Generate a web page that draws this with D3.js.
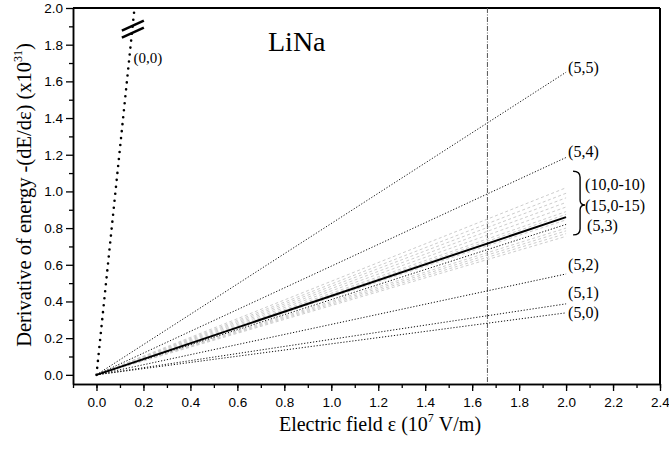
<!DOCTYPE html>
<html>
<head>
<meta charset="utf-8">
<script src="https://cdn.jsdelivr.net/npm/d3@7"></script>
<style>
  body { margin: 0; background: #fff; }
</style>
</head>
<body>
<div class="chart"></div>
<script>
// values: value of each line at field = 2.0
const fieldEnd = 2.0;
const dottedNames = ['(5,5)', '(5,4)', '(5,3)', '(5,2)', '(5,1)', '(5,0)'];
const dottedEnds = [1.65, 1.185, 0.82, 0.55, 0.387, 0.338];
const dottedLabelY = [1.675, 1.22, 0.812, 0.60, 0.448, 0.338];
const solidEnd = 0.86;
const grayEnds = [1.02, 0.99, 0.965, 0.94, 0.915, 0.89, 0.875, 0.845, 0.80, 0.785, 0.77, 0.755];
const groupNames = ['(10,0-10)', '(15,0-15)'];
const groupLabelY = [1.04, 0.926];
// (0,0) line is very steep, cut at the top of the frame
const steepEnd = {x: 0.162, y: 2.0};
const markerField = 1.665;
const xTicks = d3.range(0, 2.41, 0.2);
const yTicks = d3.range(0, 2.01, 0.2);

const serif = '"Liberation Serif", "Times New Roman", serif';
const sans = '"Liberation Sans", Arial, sans-serif';

let margin = {top: 8, right: 9, bottom: 66, left: 73};
let width = 669 - margin.left - margin.right;
let height = 450 - margin.top - margin.bottom;

let xScale = d3.scaleLinear().domain([-0.1, 2.4]).range([0, width]);
let yScale = d3.scaleLinear().domain([-0.05, 2.0]).range([height, 0]);

let svg = d3.select('.chart').append('svg')
    .attr('width', 669)
    .attr('height', 450)
  .append('g')
    .attr('transform', 'translate(' + margin.left + ',' + margin.top + ')');

// frame top and right
svg.append('line').attr('x1', 0).attr('x2', width).attr('y1', 0).attr('y2', 0)
    .attr('stroke', '#000').attr('stroke-width', 2);
svg.append('line').attr('x1', width).attr('x2', width).attr('y1', 0).attr('y2', height)
    .attr('stroke', '#000').attr('stroke-width', 2);

// minor ticks
let xMinor = d3.axisBottom(xScale).tickValues(d3.range(-0.1, 2.41, 0.1)).tickSize(4).tickFormat('').tickSizeOuter(0);
let yMinor = d3.axisLeft(yScale).tickValues(d3.range(0.1, 2.0, 0.2)).tickSize(4).tickFormat('').tickSizeOuter(0);
svg.append('g').attr('class', 'axis').attr('transform', 'translate(0,' + height + ')').call(xMinor);
svg.append('g').attr('class', 'axis').call(yMinor);

let xAxis = d3.axisBottom(xScale).tickValues(xTicks).tickSize(7).tickSizeOuter(0)
    .tickPadding(6).tickFormat(d3.format('.1f'));
let yAxis = d3.axisLeft(yScale).tickValues(yTicks).tickSize(7).tickSizeOuter(0)
    .tickPadding(3).tickFormat(d3.format('.1f'));

svg.append('g').attr('class', 'x axis').attr('transform', 'translate(0,' + height + ')').call(xAxis);
svg.append('g').attr('class', 'y axis').call(yAxis);
svg.selectAll('.axis path').attr('stroke-width', 1.5);
svg.selectAll('.axis line').attr('stroke-width', 1.3);
svg.selectAll('.axis text').attr('fill', '#000')
    .attr('font-family', sans).attr('font-size', 13.5);

// vertical marker
svg.append('line')
    .attr('x1', xScale(markerField)).attr('x2', xScale(markerField))
    .attr('y1', 0).attr('y2', height)
    .attr('stroke', '#555').attr('stroke-width', 1)
    .attr('stroke-dasharray', '5,1.5,1,1.5');

let line = d3.line().x(function(d){ return xScale(d[0]); }).y(function(d){ return yScale(d[1]); });

// gray family lines
svg.selectAll('.gray').data(grayEnds).enter().append('path')
    .attr('class', 'gray')
    .attr('d', function(d){ return line([[0, 0], [fieldEnd, d]]); })
    .attr('fill', 'none').attr('stroke', '#cdcdcd').attr('stroke-width', 1)
    .attr('stroke-dasharray', '3,2.5');

// dotted (5,n) lines
svg.selectAll('.dotted').data(dottedEnds).enter().append('path')
    .attr('class', 'dotted')
    .attr('d', function(d){ return line([[0, 0], [fieldEnd, d]]); })
    .attr('fill', 'none').attr('stroke', '#111').attr('stroke-width', 1)
    .attr('stroke-dasharray', '1.2,1.8');

// solid line
svg.append('path')
    .attr('d', line([[0, 0], [fieldEnd, solidEnd]]))
    .attr('fill', 'none').attr('stroke', '#000').attr('stroke-width', 2);

// steep (0,0) line
svg.append('path')
    .attr('d', line([[0, 0], [steepEnd.x, steepEnd.y]]))
    .attr('fill', 'none').attr('stroke', '#000').attr('stroke-width', 2.6)
    .attr('stroke-linecap', 'round')
    .attr('stroke-dasharray', '0,7');

// break marks on the steep line
let bx = xScale(0.155), by = yScale(1.885);
[-3.5, 3.5].forEach(function(o){
    svg.append('line')
        .attr('x1', bx - 11).attr('y1', by + o + 5)
        .attr('x2', bx + 11).attr('y2', by + o - 5)
        .attr('stroke', '#000').attr('stroke-width', 2.5);
});
svg.append('text').attr('x', xScale(0.158)).attr('y', yScale(1.73))
    .attr('dy', '0.35em').attr('font-family', serif).attr('font-size', 15).text('(0,0)');

// labels of dotted lines
dottedNames.forEach(function(n, i){
    if (n === '(5,3)') return;
    svg.append('text')
        .attr('x', xScale(fieldEnd) + 2).attr('y', yScale(dottedLabelY[i]))
        .attr('dy', '0.35em').attr('font-family', serif).attr('font-size', 16).text(n);
});

// bracket group
let bTop = yScale(1.11), bBot = yScale(0.763), bMid = yScale(0.926);
let bx0 = xScale(fieldEnd) + 7, bx1 = bx0 + 7, bTip = bx0 + 12;
svg.append('path')
    .attr('d', 'M' + bx0 + ',' + bTop +
        ' Q' + bx1 + ',' + bTop + ' ' + bx1 + ',' + (bTop + 6) +
        ' L' + bx1 + ',' + (bMid - 5) +
        ' Q' + bx1 + ',' + bMid + ' ' + bTip + ',' + bMid +
        ' Q' + bx1 + ',' + bMid + ' ' + bx1 + ',' + (bMid + 5) +
        ' L' + bx1 + ',' + (bBot - 6) +
        ' Q' + bx1 + ',' + bBot + ' ' + bx0 + ',' + bBot)
    .attr('fill', 'none').attr('stroke', '#000').attr('stroke-width', 1.4);
groupNames.forEach(function(n, i){
    svg.append('text')
        .attr('x', bTip).attr('y', yScale(groupLabelY[i]))
        .attr('dy', '0.35em').attr('font-family', serif).attr('font-size', 16).text(n);
});
svg.append('text')
    .attr('x', bTip + 2).attr('y', yScale(dottedLabelY[2]))
    .attr('dy', '0.35em').attr('font-family', serif).attr('font-size', 16).text(dottedNames[2]);

// title
svg.append('text').attr('x', 268 - margin.left).attr('y', 51 - margin.top)
    .attr('font-family', serif).attr('font-size', 28).text('LiNa');

// axis titles
let xt = svg.append('text').attr('x', 380 - margin.left).attr('y', 431 - margin.top)
    .attr('text-anchor', 'middle').attr('font-family', serif).attr('font-size', 20);
xt.append('tspan').text('Electric field \u03b5 (10');
xt.append('tspan').attr('dy', -9).attr('font-size', 12).text('7');
xt.append('tspan').attr('dy', 9).text(' V/m)');

let yt = svg.append('text')
    .attr('transform', 'translate(' + (31 - margin.left) + ',' + (195 - margin.top) + ')rotate(-90)')
    .attr('text-anchor', 'middle').attr('font-family', serif).attr('font-size', 20.5);
yt.append('tspan').text('Derivative of energy -(dE/d\u03b5) (x10');
yt.append('tspan').attr('dy', -9).attr('font-size', 12).text('31');
yt.append('tspan').attr('dy', 9).text(')');
</script>
</body>
</html>
